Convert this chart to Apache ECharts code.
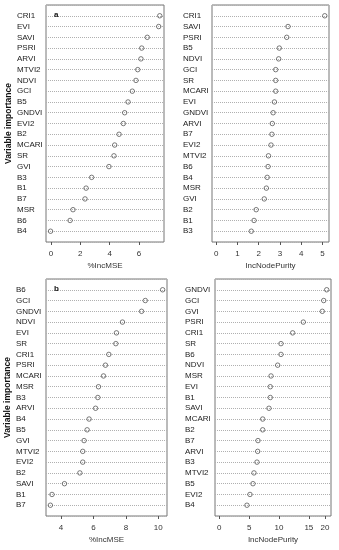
<!DOCTYPE html>
<html><head><meta charset="utf-8">
<script src="https://cdn.jsdelivr.net/npm/echarts@6/dist/echarts.min.js"></script>
<style>html,body{margin:0;padding:0;background:#fff}#c{width:339px;height:550px}</style>
</head><body><div id="c"></div>
<script>
// Panel a, left: %IncMSE
const catsA = ['CRI1','EVI','SAVI','PSRI','ARVI','MTVI2','NDVI','GCI','B5','GNDVI','EVI2','B2','MCARI','SR','GVI','B3','B1','B7','MSR','B6','B4'];
const mseA = [7.41,7.34,6.56,6.18,6.13,5.91,5.79,5.54,5.25,5.02,4.93,4.64,4.34,4.29,3.95,2.77,2.39,2.32,1.50,1.30,-0.03];
// Panel a, right: IncNodePurity
const catsA2 = ['CRI1','SAVI','PSRI','B5','NDVI','GCI','SR','MCARI','EVI','GNDVI','ARVI','B7','EVI2','MTVI2','B6','B4','MSR','GVI','B2','B1','B3'];
const purA = [5.11,3.38,3.32,2.97,2.94,2.80,2.80,2.80,2.74,2.68,2.64,2.62,2.58,2.46,2.44,2.40,2.36,2.26,1.88,1.78,1.65];
// Panel b, left: %IncMSE
const catsB = ['B6','GCI','GNDVI','NDVI','EVI','SR','CRI1','PSRI','MCARI','MSR','B3','ARVI','B4','B5','GVI','MTVI2','EVI2','B2','SAVI','B1','B7'];
const mseB = [10.27,9.20,8.97,7.79,7.42,7.38,6.95,6.74,6.62,6.31,6.27,6.13,5.73,5.61,5.42,5.34,5.34,5.16,4.21,3.44,3.34];
// Panel b, right: IncNodePurity
const catsB2 = ['GNDVI','GCI','GVI','PSRI','CRI1','SR','B6','NDVI','MSR','EVI','B1','SAVI','MCARI','B2','B7','ARVI','B3','MTVI2','B5','EVI2','B4'];
const purB = [17.99,17.49,17.25,14.07,12.29,10.33,10.33,9.78,8.66,8.54,8.54,8.32,7.27,7.27,6.48,6.43,6.31,5.81,5.64,5.14,4.63];
// tick values / labels
const ticksA = [0,2,4,6];
const ticksA2 = [0,1,2,3,4,5];
const ticksB = [4,6,8,10];
const ticksB2 = [0,5,10,15,17.7];
const tickLabelsB2 = ['0','5','10','15','20'];

const FONT = 'Liberation Sans, Arial, sans-serif';
const chart = echarts.init(document.getElementById('c'), null, {renderer:'canvas'});

const grids = [
  {left:46, top:5, width:118, height:237},
  {left:212, top:5, width:117, height:237},
  {left:46, top:279, width:121, height:237},
  {left:215, top:279, width:116, height:237}
];
const panels = [
  {cats:catsA, vals:mseA, min:-0.34, max:7.70, ticks:ticksA, labels:null, name:'%IncMSE', yname:true, margin:29},
  {cats:catsA2, vals:purA, min:-0.20, max:5.31, ticks:ticksA2, labels:null, name:'IncNodePurity', yname:false, margin:29},
  {cats:catsB, vals:mseB, min:3.07, max:10.54, ticks:ticksB, labels:null, name:'%IncMSE', yname:true, margin:30},
  {cats:catsB2, vals:purB, min:-0.72, max:18.71, ticks:ticksB2, labels:tickLabelsB2, name:'IncNodePurity', yname:false, margin:30}
];

const n = 21;
const option = {
  backgroundColor:'#fff',
  animation:false,
  title:[
    {text:'a', left:49, top:6, textStyle:{fontFamily:FONT, fontSize:8, fontWeight:'bold', color:'#111'}},
    {text:'b', left:49, top:280, textStyle:{fontFamily:FONT, fontSize:8, fontWeight:'bold', color:'#111'}}
  ],
  grid: grids.map(g => Object.assign({show:true, borderColor:'#777', borderWidth:1, backgroundColor:'transparent'}, g)),
  xAxis: panels.map((p,i) => ({
    type:'value', gridIndex:i, min:p.min, max:p.max,
    name:p.name, nameLocation:'middle', nameGap:20,
    nameTextStyle:{fontFamily:FONT, fontSize:8, color:'#333'},
    axisLine:{show:false},
    splitLine:{show:false},
    axisTick:{show:true, length:3, customValues:p.ticks, lineStyle:{color:'#555'}},
    axisLabel:{show:true, customValues:p.ticks, margin:8, fontFamily:FONT, fontSize:8, color:'#333',
      formatter: v => { if (p.labels) { const k = p.ticks.indexOf(v); return k>=0 ? p.labels[k] : ''; } return String(v); }}
  })),
  yAxis: panels.map((p,i) => ({
    type:'value', gridIndex:i, min:0, max:n+1, interval:1,
    name: p.yname ? 'Variable importance' : '', nameLocation:'middle', nameGap:33, nameRotate:90,
    nameTextStyle:{fontFamily:FONT, fontSize:8.5, fontWeight:'bold', color:'#111'},
    axisLine:{show:false}, axisTick:{show:false},
    splitLine:{show:true, lineStyle:{type:'dotted', color:'#b0b0b0', width:1}},
    axisLabel:{show:true, align:'left', margin:p.margin, fontFamily:FONT, fontSize:8, color:'#222',
      formatter: v => (v>=1 && v<=n) ? p.cats[n - v] : ''}
  })),
  series: panels.map((p,i) => ({
    type:'scatter', xAxisIndex:i, yAxisIndex:i,
    symbol:'circle', symbolSize:4.5,
    itemStyle:{color:'transparent', borderColor:'#333', borderWidth:0.8},
    data: p.vals.map((v,k) => [v, n - k])
  }))
};
chart.setOption(option);
</script></body></html>
